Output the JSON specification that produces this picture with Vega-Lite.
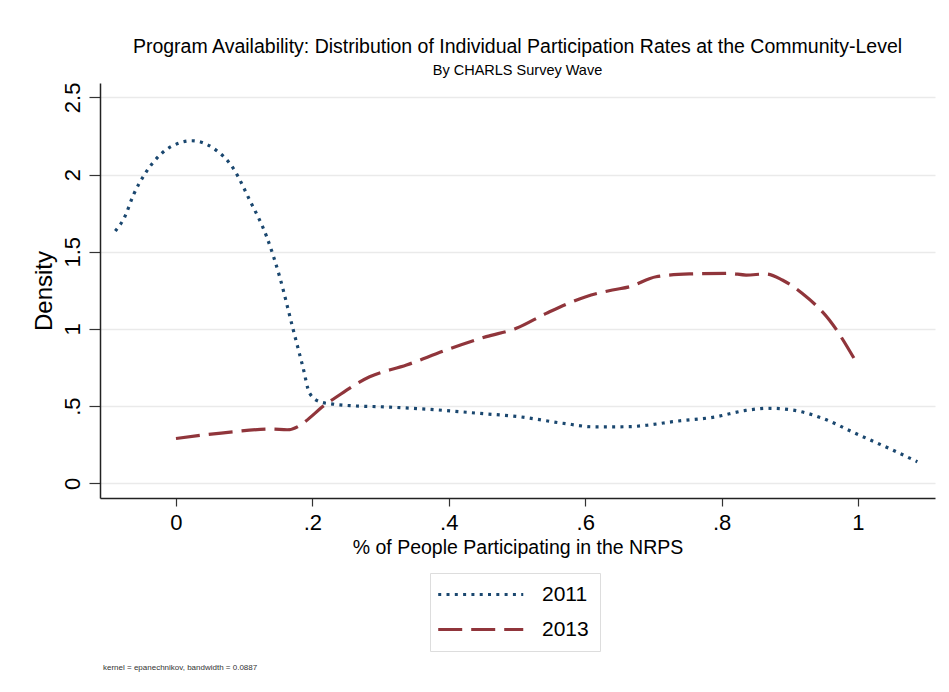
{
  "$schema": "https://vega.github.io/schema/vega-lite/v6.json",
  "autosize": {"type": "none"},
  "padding": {"left": 100, "top": 83, "right": 14, "bottom": 194},
  "width": 835,
  "height": 415,
  "background": "white",
  "config": {
    "font": "Liberation Sans",
    "view": {"stroke": null}
  },
  "title": {
    "text": "Program Availability: Distribution of Individual Participation Rates at the Community-Level",
    "subtitle": "By CHARLS Survey Wave",
    "anchor": "middle",
    "fontSize": 19.5,
    "fontWeight": "normal",
    "color": "#000000",
    "subtitleFontSize": 14.5,
    "subtitleColor": "#000000",
    "subtitlePadding": 6,
    "offset": 4
  },
  "datasets": {
    "curves": [
      {"year": "2011", "x": -0.089, "density": 1.634},
      {"year": "2011", "x": -0.075, "density": 1.727},
      {"year": "2011", "x": -0.0625, "density": 1.867},
      {"year": "2011", "x": -0.045, "density": 2.008},
      {"year": "2011", "x": -0.021, "density": 2.137},
      {"year": "2011", "x": 0.006, "density": 2.206},
      {"year": "2011", "x": 0.023, "density": 2.219},
      {"year": "2011", "x": 0.055, "density": 2.17},
      {"year": "2011", "x": 0.084, "density": 2.04},
      {"year": "2011", "x": 0.108, "density": 1.835},
      {"year": "2011", "x": 0.133, "density": 1.597},
      {"year": "2011", "x": 0.152, "density": 1.338},
      {"year": "2011", "x": 0.172, "density": 0.993},
      {"year": "2011", "x": 0.186, "density": 0.755},
      {"year": "2011", "x": 0.196, "density": 0.583},
      {"year": "2011", "x": 0.211, "density": 0.528},
      {"year": "2011", "x": 0.23, "density": 0.513},
      {"year": "2011", "x": 0.255, "density": 0.503},
      {"year": "2011", "x": 0.299, "density": 0.496},
      {"year": "2011", "x": 0.372, "density": 0.479},
      {"year": "2011", "x": 0.445, "density": 0.453},
      {"year": "2011", "x": 0.504, "density": 0.431},
      {"year": "2011", "x": 0.567, "density": 0.389},
      {"year": "2011", "x": 0.616, "density": 0.365},
      {"year": "2011", "x": 0.665, "density": 0.367},
      {"year": "2011", "x": 0.694, "density": 0.378},
      {"year": "2011", "x": 0.728, "density": 0.399},
      {"year": "2011", "x": 0.792, "density": 0.431},
      {"year": "2011", "x": 0.835, "density": 0.472},
      {"year": "2011", "x": 0.87, "density": 0.486},
      {"year": "2011", "x": 0.904, "density": 0.475},
      {"year": "2011", "x": 0.948, "density": 0.421},
      {"year": "2011", "x": 0.996, "density": 0.324},
      {"year": "2011", "x": 1.045, "density": 0.227},
      {"year": "2011", "x": 1.087, "density": 0.14},
      {"year": "2013", "x": 0.0, "density": 0.29},
      {"year": "2013", "x": 0.084, "density": 0.334},
      {"year": "2013", "x": 0.14, "density": 0.352},
      {"year": "2013", "x": 0.163, "density": 0.347},
      {"year": "2013", "x": 0.225, "density": 0.529},
      {"year": "2013", "x": 0.284, "density": 0.69},
      {"year": "2013", "x": 0.338, "density": 0.766},
      {"year": "2013", "x": 0.396, "density": 0.863},
      {"year": "2013", "x": 0.455, "density": 0.95},
      {"year": "2013", "x": 0.499, "density": 1.004},
      {"year": "2013", "x": 0.543, "density": 1.101},
      {"year": "2013", "x": 0.601, "density": 1.209},
      {"year": "2013", "x": 0.64, "density": 1.252},
      {"year": "2013", "x": 0.665, "density": 1.273},
      {"year": "2013", "x": 0.704, "density": 1.338},
      {"year": "2013", "x": 0.753, "density": 1.356},
      {"year": "2013", "x": 0.811, "density": 1.36},
      {"year": "2013", "x": 0.836, "density": 1.349},
      {"year": "2013", "x": 0.865, "density": 1.356},
      {"year": "2013", "x": 0.889, "density": 1.317},
      {"year": "2013", "x": 0.918, "density": 1.231},
      {"year": "2013", "x": 0.958, "density": 1.058},
      {"year": "2013", "x": 0.997, "density": 0.788}
    ],
    "note": [
      {"note": "kernel = epanechnikov, bandwidth = 0.0887"}
    ]
  },
  "layer": [
    {
      "data": {"name": "curves"},
      "mark": {"type": "line", "strokeWidth": 3.2, "interpolate": "monotone", "strokeCap": "butt"},
      "encoding": {
        "x": {
          "field": "x", "type": "quantitative",
          "scale": {"domain": [-0.1114, 1.1129], "nice": false, "zero": false},
          "axis": {
            "values": [0, 0.2, 0.4, 0.6, 0.8, 1],
            "labelExpr": "replace(toString(datum.value), /^0\\./, '.')",
            "title": "% of People Participating in the NRPS",
            "titleFontSize": 19.5,
            "titleFontWeight": "normal",
            "titleColor": "#000000",
            "titlePadding": 5,
            "labelFontSize": 22,
            "labelColor": "#000000",
            "labelPadding": 6,
            "tickSize": 8,
            "tickColor": "#333333",
            "tickWidth": 1.2,
            "domainColor": "#222222",
            "domainWidth": 1.5,
            "grid": false
          }
        },
        "y": {
          "field": "density", "type": "quantitative",
          "scale": {"domain": [-0.0952, 2.593], "nice": false, "zero": false},
          "axis": {
            "values": [0, 0.5, 1, 1.5, 2, 2.5],
            "labelExpr": "replace(toString(datum.value), /^0\\./, '.')",
            "labelAngle": -90,
            "labelAlign": "center",
            "labelBaseline": "bottom",
            "title": "Density",
            "titleFontSize": 24,
            "titleFontWeight": "normal",
            "titleColor": "#000000",
            "titlePadding": 5,
            "labelFontSize": 22,
            "labelColor": "#000000",
            "labelPadding": 5,
            "tickSize": 11,
            "tickColor": "#333333",
            "tickWidth": 1.2,
            "domainColor": "#222222",
            "domainWidth": 1.5,
            "grid": true,
            "gridColor": "#eaeaea",
            "gridWidth": 1.5
          }
        },
        "color": {
          "field": "year", "type": "nominal",
          "scale": {"domain": ["2011", "2013"], "range": ["#1a476f", "#90353b"]},
          "legend": {
            "orient": "none",
            "legendX": 330,
            "legendY": 490,
            "title": null,
            "symbolType": "M-2.5,0L13.5,0",
            "symbolSize": 113,
            "symbolStrokeWidth": 3,
            "labelFontSize": 21,
            "labelColor": "#000000",
            "labelOffset": 80,
            "rowPadding": 13,
            "padding": 11,
            "strokeColor": "#dddddd",
            "fillColor": "white"
          }
        },
        "strokeDash": {
          "field": "year", "type": "nominal",
          "scale": {"domain": ["2011", "2013"], "range": [[3, 5.3], [24, 9]]},
          "legend": null
        }
      }
    },
    {
      "data": {"name": "note"},
      "mark": {"type": "text", "align": "left", "baseline": "alphabetic", "fontSize": 8, "color": "#333333"},
      "encoding": {
        "x": {"datum": -0.107, "type": "quantitative"},
        "y": {"datum": -1.209, "type": "quantitative"},
        "text": {"field": "note", "type": "nominal"}
      }
    }
  ]
}
